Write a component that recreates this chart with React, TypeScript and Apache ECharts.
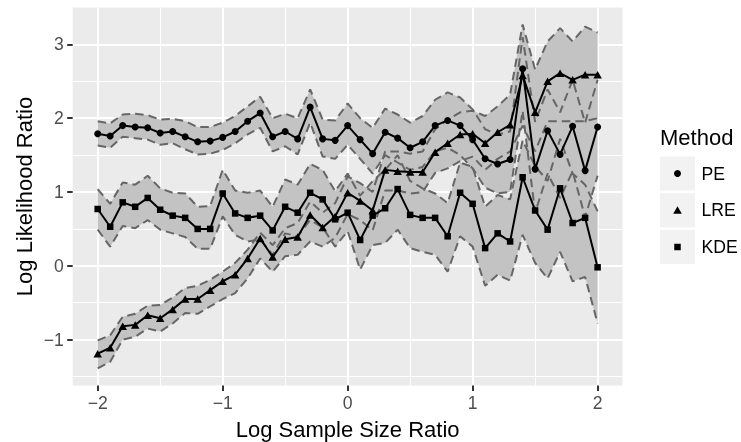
import React, { useEffect, useRef } from "react";
import * as echarts from "echarts";

const sizeRatio = [
  -2.0, -1.9, -1.8, -1.7, -1.6, -1.5, -1.4, -1.3, -1.2, -1.1, -1.0,
  -0.9, -0.8, -0.7, -0.6, -0.5, -0.4, -0.3, -0.2, -0.1, 0.0,
  0.1, 0.2, 0.3, 0.4, 0.5, 0.6, 0.7, 0.8, 0.9, 1.0,
  1.1, 1.2, 1.3, 1.4, 1.5, 1.6, 1.7, 1.8, 1.9, 2.0,
];

const peMean = [
  1.79, 1.76, 1.9, 1.88, 1.87, 1.8, 1.82, 1.75, 1.68, 1.69, 1.74, 1.82, 1.96, 2.07, 1.75, 1.82, 1.72, 2.15, 1.72, 1.7, 1.9,
  1.71, 1.52, 1.81, 1.73, 1.6, 1.68, 1.9, 1.97, 1.9, 1.71, 1.45, 1.38, 1.44, 2.67, 1.31, 1.83, 1.51, 1.89, 1.29, 1.88,
];
const peUpper = [
  1.96, 1.93, 2.05, 2.06, 2.04, 1.98, 1.99, 1.96, 1.88, 1.88, 1.94, 2.03, 2.16, 2.29, 2.0, 2.06, 2.0, 2.39, 1.98, 1.97, 2.2,
  2.0, 1.87, 2.13, 2.05, 1.94, 2.03, 2.25, 2.35, 2.28, 2.12, 1.85, 1.78, 1.82, 3.1, 1.95, 2.39, 2.08, 2.52, 1.94, 2.52,
];
const peLower = [
  1.63, 1.6, 1.75, 1.73, 1.71, 1.64, 1.66, 1.58, 1.51, 1.52, 1.57, 1.66, 1.78, 1.87, 1.55, 1.62, 1.51, 1.94, 1.48, 1.45, 1.64,
  1.45, 1.25, 1.5, 1.4, 1.3, 1.34, 1.55, 1.6, 1.5, 1.32, 1.06, 0.98, 1.0, 2.1, 0.72, 1.25, 0.92, 1.28, 0.66, 1.22,
];

const lreMean = [
  -1.19, -1.11, -0.82, -0.8, -0.67, -0.71, -0.59, -0.45, -0.45, -0.33, -0.21, -0.12, 0.1, 0.37, 0.12, 0.36, 0.39, 0.69, 0.52, 0.67, 0.99,
  0.88, 0.75, 1.3, 1.28, 1.27, 1.27, 1.54, 1.66, 1.78, 1.79, 1.66, 1.81, 1.91, 2.58, 2.08, 2.5, 2.61, 2.52, 2.59, 2.59,
];
const lreUpper = [
  -1.01, -0.94, -0.69, -0.65, -0.54, -0.53, -0.43, -0.3, -0.27, -0.19, -0.08, 0.04, 0.22, 0.45, 0.28, 0.51, 0.58, 0.87, 0.72, 0.85, 1.21,
  1.12, 1.0, 1.55, 1.55, 1.52, 1.55, 1.85, 1.98, 2.08, 2.1, 2.03, 2.16, 2.32, 3.27, 2.66, 3.04, 3.22, 3.04, 3.24, 3.16,
];
const lreLower = [
  -1.39, -1.3, -1.0, -0.96, -0.85, -0.89, -0.78, -0.64, -0.65, -0.55, -0.45, -0.37, -0.17, 0.1, -0.08, 0.13, 0.15, 0.33, 0.26, 0.38, 0.7,
  0.62, 0.48, 1.02, 1.02, 0.98, 1.0, 1.26, 1.32, 1.42, 1.48, 1.3, 1.45, 1.55, 1.9, 1.55, 1.96, 1.96, 1.96, 1.96, 2.0,
];

const kdeMean = [
  0.77, 0.53, 0.86, 0.8, 0.92, 0.76, 0.68, 0.65, 0.5, 0.5, 0.98, 0.71, 0.65, 0.68, 0.48, 0.8, 0.72, 0.99, 0.9, 0.63, 0.72,
  0.35, 0.68, 0.78, 1.04, 0.69, 0.65, 0.65, 0.4, 0.99, 0.84, 0.24, 0.44, 0.33, 1.2, 0.75, 0.49, 1.05, 0.58, 0.65, -0.02,
];
const kdeUpper = [
  1.04, 0.84, 1.13, 1.1, 1.22, 1.05, 0.99, 0.98, 0.8, 0.81, 1.3, 1.02, 0.99, 1.02, 0.8, 1.17, 1.1, 1.38, 1.3, 1.01, 1.25,
  0.95, 1.15, 1.3, 1.5, 1.15, 1.05, 0.98, 0.85, 1.4, 1.34, 0.8, 0.96, 0.9, 1.7, 1.35, 1.15, 1.72, 1.25, 1.1, 0.74,
];
const kdeLower = [
  0.49, 0.26, 0.54, 0.51, 0.62, 0.49, 0.44, 0.39, 0.23, 0.23, 0.67, 0.42, 0.33, 0.36, 0.15, 0.44, 0.4, 0.62, 0.52, 0.26, 0.47,
  -0.05, 0.28, 0.31, 0.49, 0.24, 0.19, 0.15, -0.08, 0.4, 0.26, -0.27, -0.12, -0.2, 0.42, 0.04, -0.17, 0.19, -0.21, -0.15, -0.78,
];

const methodNames = ["PE", "LRE", "KDE"];
const xTicks = [-2, -1, 0, 1, 2];
const yTicks = [-1, 0, 1, 2, 3];
const xTitle = "Log Sample Size Ratio";
const yTitle = "Log Likelihood Ratio";
const legendTitle = "Method";

const FONT = "'Liberation Sans', Arial, Helvetica, sans-serif";
const RIBBON_FILL = "#C3C3C3";
const RIBBON_EDGE = "#666666";

type Method = { name: string; mean: number[]; upper: number[]; lower: number[]; symbol: string; size: number | number[] };

const methods: Method[] = [
  { name: methodNames[0], mean: peMean, upper: peUpper, lower: peLower, symbol: "circle", size: 7 },
  { name: methodNames[1], mean: lreMean, upper: lreUpper, lower: lreLower, symbol: "triangle", size: [8.5, 7.5] },
  { name: methodNames[2], mean: kdeMean, upper: kdeUpper, lower: kdeLower, symbol: "rect", size: 6.5 },
];

const minus = (v: number) => (v < 0 ? "\u2212" + Math.abs(v) : String(v));

function buildOption() {
  const series: any[] = [];
  methods.forEach((m) => {
    series.push({
      type: "custom",
      name: m.name + "-ribbon",
      data: sizeRatio.map((x, i) => [x, m.lower[i], m.upper[i]]),
      encode: { x: 0, y: [1, 2] },
      silent: true,
      z: 1,
      renderItem: (params: any, api: any) => {
        if (params.dataIndex !== 0) return null;
        const pts: number[][] = [];
        for (let i = 0; i < sizeRatio.length; i++) pts.push(api.coord([sizeRatio[i], m.upper[i]]));
        for (let i = sizeRatio.length - 1; i >= 0; i--) pts.push(api.coord([sizeRatio[i], m.lower[i]]));
        return { type: "polygon", shape: { points: pts }, style: { fill: RIBBON_FILL, stroke: "none" } };
      },
    });
  });
  methods.forEach((m) => {
    [m.lower, m.upper].forEach((arr, k) => {
      series.push({
        type: "line",
        name: m.name + (k ? "-hi" : "-lo"),
        data: sizeRatio.map((x, i) => [x, arr[i]]),
        symbol: "none",
        lineStyle: { color: RIBBON_EDGE, width: 2, type: [8.5, 5] },
        silent: true,
        z: 2,
      });
    });
  });
  methods.forEach((m) => {
    series.push({
      type: "line",
      name: m.name,
      data: sizeRatio.map((x, i) => [x, m.mean[i]]),
      symbol: m.symbol,
      symbolSize: m.size,
      showSymbol: true,
      lineStyle: { color: "#000", width: 2 },
      itemStyle: { color: "#000" },
      silent: true,
      z: 3,
    });
  });

  const keyX = 660;
  const keyW = 35;
  const keyH = 34;
  const keyTops = [156.5, 193.3, 230];
  const legendGraphics: any[] = [
    {
      type: "text",
      left: keyX,
      top: 126,
      style: { text: legendTitle, fontSize: 22, fontFamily: FONT, fill: "#000" },
    },
  ];
  methods.forEach((m, i) => {
    const cy = keyTops[i] + keyH / 2;
    const cx = keyX + keyW / 2;
    legendGraphics.push({
      type: "rect",
      shape: { x: keyX, y: keyTops[i], width: keyW, height: keyH },
      style: { fill: "#F2F2F2" },
    });
    if (m.symbol === "circle") {
      legendGraphics.push({ type: "circle", shape: { cx, cy, r: 3.5 }, style: { fill: "#000" } });
    } else if (m.symbol === "triangle") {
      legendGraphics.push({
        type: "polygon",
        shape: { points: [[cx, cy - 4], [cx + 4.3, cy + 3.5], [cx - 4.3, cy + 3.5]] },
        style: { fill: "#000" },
      });
    } else {
      legendGraphics.push({ type: "rect", shape: { x: cx - 3.25, y: cy - 3.25, width: 6.5, height: 6.5 }, style: { fill: "#000" } });
    }
    legendGraphics.push({
      type: "text",
      x: 701.5,
      y: cy,
      style: { text: m.name, fontSize: 17.6, fontFamily: FONT, fill: "#000", verticalAlign: "middle", align: "left" },
    });
  });

  const axisCommon = {
    type: "value",
    axisLine: { show: false, onZero: false },
    splitLine: { show: true, lineStyle: { color: "#FFFFFF", width: 2 } },
    minorTick: { show: false, splitNumber: 2 },
    minorSplitLine: { show: true, lineStyle: { color: "#FFFFFF", width: 1 } },
  };

  return {
    animation: false,
    grid: {
      left: 72.7,
      right: 118.4,
      top: 7.5,
      bottom: 56.6,
      show: true,
      backgroundColor: "#EBEBEB",
      borderWidth: 0,
    },
    xAxis: {
      ...axisCommon,
      min: -2.2,
      max: 2.2,
      axisTick: { show: true, length: 5.5, lineStyle: { color: "#333", width: 2 }, customValues: xTicks },
      axisLabel: {
        customValues: xTicks,
        color: "#4D4D4D",
        fontSize: 17.6,
        fontFamily: FONT,
        margin: 9,
        formatter: (v: number) => minus(v),
      },
    },
    yAxis: {
      ...axisCommon,
      min: -1.62,
      max: 3.5,
      axisTick: { show: true, length: 5.5, lineStyle: { color: "#333", width: 2 }, customValues: yTicks },
      axisLabel: {
        customValues: yTicks,
        color: "#4D4D4D",
        fontSize: 17.6,
        fontFamily: FONT,
        margin: 9,
        formatter: (v: number) => minus(v),
      },
    },
    graphic: [
      {
        type: "text",
        x: 347.6,
        y: 429,
        style: { text: xTitle, fontSize: 22, fontFamily: FONT, fill: "#000", align: "center", verticalAlign: "middle" },
      },
      {
        type: "text",
        x: 24,
        y: 196.5,
        rotation: Math.PI / 2,
        style: { text: yTitle, fontSize: 22, fontFamily: FONT, fill: "#000", align: "center", verticalAlign: "middle" },
      },
      ...legendGraphics,
    ],
    series,
  };
}

export default function App() {
  const ref = useRef<HTMLDivElement>(null);
  useEffect(() => {
    if (!ref.current) return;
    const chart = echarts.init(ref.current, undefined, { renderer: "svg" });
    chart.setOption(buildOption() as any);
    return () => chart.dispose();
  }, []);
  return <div ref={ref} style={{ position: "fixed", left: 0, top: 0, width: 741, height: 442 }} />;
}
